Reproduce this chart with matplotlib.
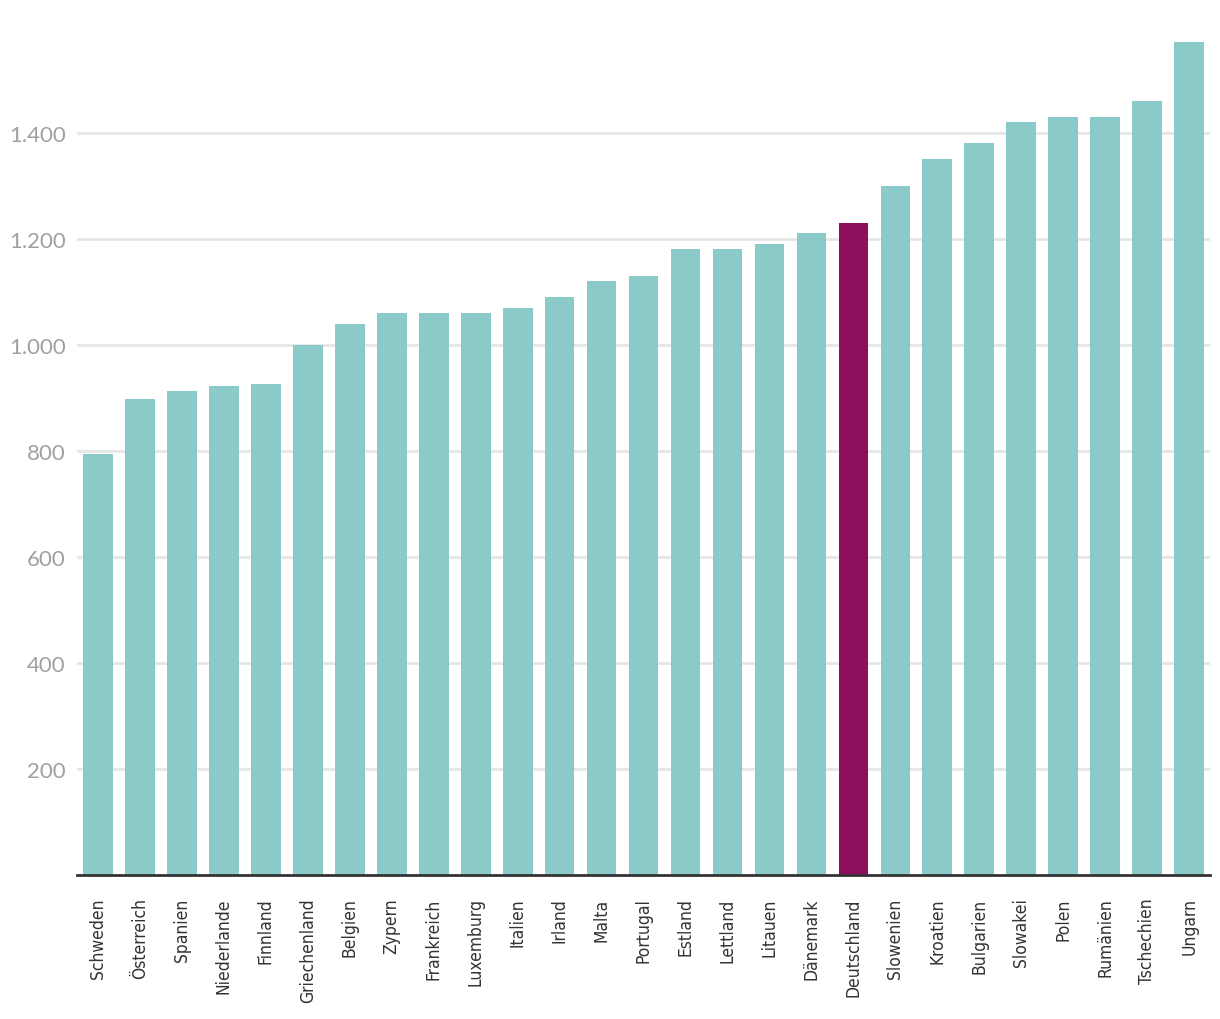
import matplotlib.pyplot as plt
from matplotlib.ticker import FuncFormatter

countries = ['Schweden', 'Österreich', 'Spanien', 'Niederlande', 'Finnland',
             'Griechenland', 'Belgien', 'Zypern', 'Frankreich', 'Luxemburg',
             'Italien', 'Irland', 'Malta', 'Portugal', 'Estland', 'Lettland',
             'Litauen', 'Dänemark', 'Deutschland', 'Slowenien', 'Kroatien',
             'Bulgarien', 'Slowakei', 'Polen', 'Rumänien', 'Tschechien', 'Ungarn']
values = [795, 898, 913, 923, 926, 1000, 1040, 1060, 1060, 1060,
          1070, 1090, 1120, 1130, 1180, 1180, 1190, 1210, 1230, 1300,
          1350, 1380, 1420, 1430, 1430, 1460, 1570]
highlight = 'Deutschland'

teal = '#8ACBCA'
purple = '#8E0F5E'
colors = [purple if c == highlight else teal for c in countries]

fig = plt.figure(figsize=(12.2, 10.2), dpi=100)
ax = fig.add_axes([0.063, 0.141, 0.929, 0.832])

x = range(len(countries))
ax.bar(x, values, width=0.71, color=colors, zorder=2)

ax.set_xlim(-0.5, len(countries) - 0.5)
ax.set_ylim(0, 1600)
ax.set_yticks([200, 400, 600, 800, 1000, 1200, 1400])
ax.yaxis.set_major_formatter(FuncFormatter(lambda v, p: f'{int(v):,}'.replace(',', '.')))
ax.grid(axis='y', color='#e6e6e6', linewidth=2, zorder=0)

for side in ['top', 'right', 'left']:
    ax.spines[side].set_visible(False)
ax.spines['bottom'].set_color('#333333')
ax.spines['bottom'].set_linewidth(2)
ax.spines['bottom'].set_zorder(3)

# y labels: light grey, Lato
ax.tick_params(axis='y', length=0, pad=8, labelsize=16, labelcolor='#a0a0a0')
for lab in ax.get_yticklabels():
    lab.set_family(['Lato', 'DejaVu Sans'])

# x labels: rotated, condensed
ax.set_xticks(list(x))
ax.set_xticklabels(countries, rotation=90, fontsize=12.5, color='#333333',
                   family=['DejaVu Sans'], stretch='condensed')
ax.tick_params(axis='x', length=0, pad=16)

fig.savefig('out.png', dpi=100)
